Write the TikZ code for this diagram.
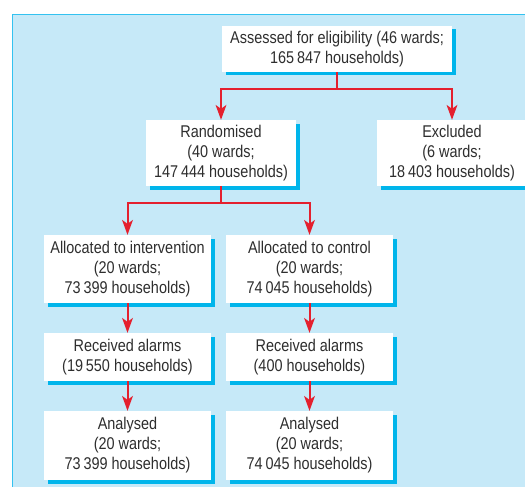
\documentclass[tikz,border=0pt]{standalone}
\usepackage{fontspec}
\setmainfont{Liberation Sans}[FakeStretch=0.85]
\usetikzlibrary{shadows}
\definecolor{bgblue}{HTML}{C6E9F8}
\definecolor{edgeblue}{HTML}{33C2F0}
\definecolor{shadowblue}{HTML}{00B5EB}
\definecolor{arrred}{HTML}{E4202E}
\definecolor{txtgray}{HTML}{2E2E2E}
\newcommand{\redtip}[1]{\fill[arrred] (#1) -- ++(-5.5,-15) -- ++(5.5,4) -- ++(5.5,-4) -- cycle;}
\begin{document}
\begin{tikzpicture}[x=1pt,y=-1pt,
  box/.style={fill=white, text=txtgray, align=center, inner sep=0pt,
    font=\fontsize{17}{20}\selectfont,
    drop shadow={shadow xshift=3.5pt, shadow yshift=-3.5pt, fill=shadowblue, opacity=1}},
  arr/.style={draw=arrred, line width=2pt, shorten >=8pt},
]
\useasboundingbox (0,0) rectangle (525,487);
\clip (0,0) rectangle (525,487);
\fill[bgblue] (12.5,14.5) rectangle (540,500);
\draw[edgeblue, line width=1.6pt] (12.5,500) -- (12.5,14.5) -- (540,14.5);

\node[box, minimum width=230pt, minimum height=46pt] (assess) at (337,49)
  {Assessed for eligibility (46 wards;\\165\,847 households)};
\node[box, minimum width=150pt, minimum height=66pt] (rand) at (221,153)
  {Randomised\\(40 wards;\\147\,444 households)};
\node[box, minimum width=150pt, minimum height=66pt] (excl) at (452,153)
  {Excluded\\(6 wards;\\18\,403 households)};
\node[box, minimum width=167pt, minimum height=68pt] (int) at (127.5,269)
  {Allocated to intervention\\(20 wards;\\73\,399 households)};
\node[box, minimum width=167pt, minimum height=68pt] (ctrl) at (309.5,269)
  {Allocated to control\\(20 wards;\\74\,045 households)};
\node[box, minimum width=167pt, minimum height=48pt] (reci) at (127.5,357)
  {Received alarms\\(19\,550 households)};
\node[box, minimum width=167pt, minimum height=48pt] (recc) at (309.5,357)
  {Received alarms\\(400 households)};
\node[box, minimum width=167pt, minimum height=69pt] (anai) at (127.5,445.5)
  {Analysed\\(20 wards;\\73\,399 households)};
\node[box, minimum width=167pt, minimum height=69pt] (anac) at (309.5,445.5)
  {Analysed\\(20 wards;\\74\,045 households)};

\draw[arr] (assess.south) -- ++(0,17) -| (rand.north);
\draw[arr] (assess.south) -- ++(0,17) -| (excl.north);
\draw[arr] (rand.south) -- ++(0,17) -| (int.north);
\draw[arr] (rand.south) -- ++(0,17) -| (ctrl.north);
\draw[arr] (int.south) -- (reci.north);
\draw[arr] (ctrl.south) -- (recc.north);
\draw[arr] (reci.south) -- (anai.north);
\draw[arr] (recc.south) -- (anac.north);
\redtip{rand.north}
\redtip{excl.north}
\redtip{int.north}
\redtip{ctrl.north}
\redtip{reci.north}
\redtip{recc.north}
\redtip{anai.north}
\redtip{anac.north}
\end{tikzpicture}
\end{document}
